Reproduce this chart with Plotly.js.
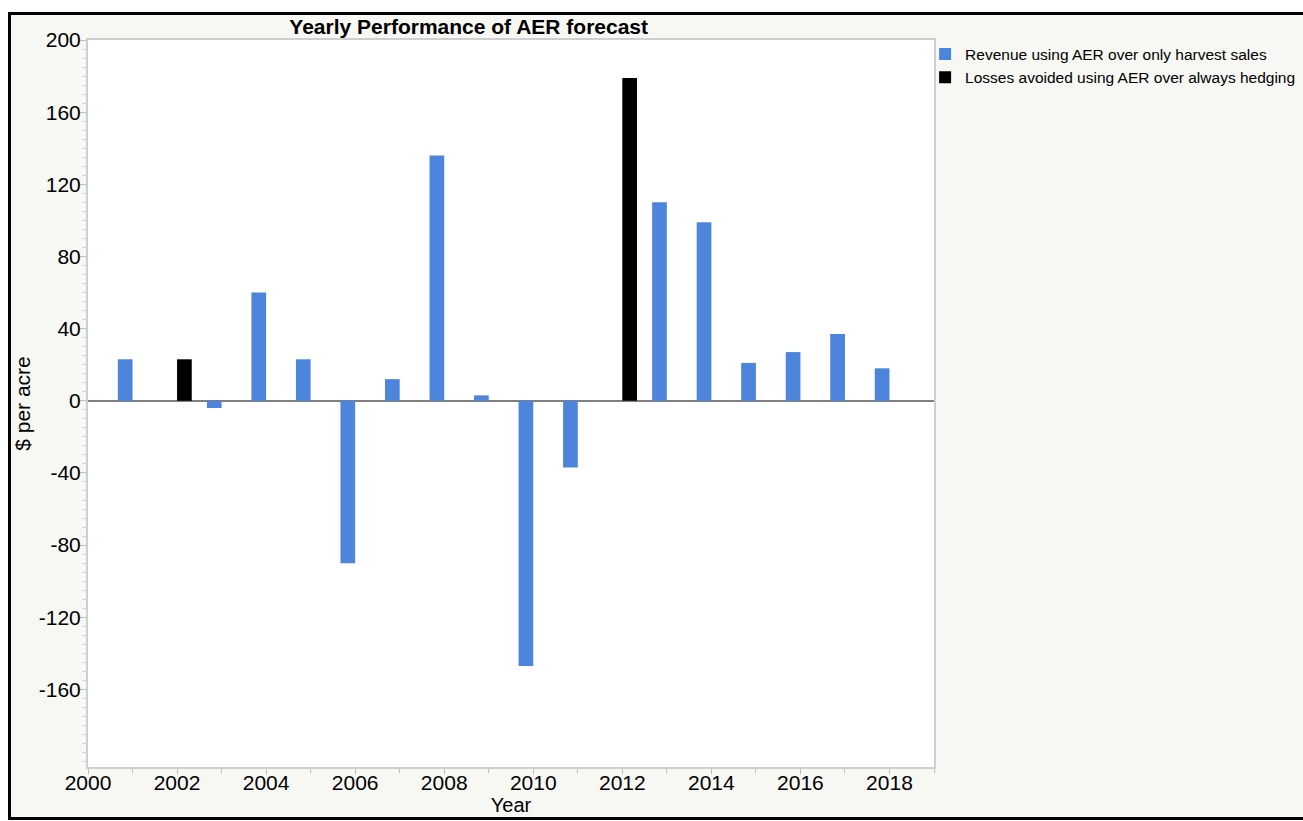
<!DOCTYPE html>
<html>
<head>
<meta charset="utf-8">
<script src="https://cdn.plot.ly/plotly-3.0.1.min.js"></script>
<style>
  html, body { margin: 0; padding: 0; background: #ffffff; width: 1303px; height: 821px; overflow: hidden; }
  #frame { position: absolute; left: 8px; top: 12px; width: 1295px; height: 802px;
           border-left: 3px solid #000; border-top: 3px solid #000; border-bottom: 3px solid #000;
           background: #f7f7f3; overflow: hidden; }
  #chart { width: 1292px; height: 802px; }
</style>
</head>
<body>
<div id="frame"><div id="chart"></div></div>
<script>
// Data
const revenueYears  = [2001, 2003, 2004, 2005, 2006, 2007, 2008, 2009, 2010, 2011, 2013, 2014, 2015, 2016, 2017, 2018];
const revenueValues = [23, -4, 60, 23, -90, 12, 136, 3, -147, -37, 110, 99, 21, 27, 37, 18];
const lossesYears   = [2002, 2012];
const lossesValues  = [23, 179];
const yTickValues   = [-160, -120, -80, -40, 0, 40, 80, 120, 160, 200];
const yTickLabels   = ['-160', '-120', '-80', '-40', '0', '40', '80', '120', '160', '200'];
const seriesNames   = ["Revenue using AER over only harvest sales", "Losses avoided using AER over always hedging"];

const fontFamily = '"Liberation Sans", Arial, Helvetica, sans-serif';

const traces = [
  { type: 'bar', name: seriesNames[0], x: revenueYears, y: revenueValues,
    width: 0.33, offset: -0.33,
    marker: { color: '#4d84dc', line: { width: 0 } } },
  { type: 'bar', name: seriesNames[1], x: lossesYears, y: lossesValues,
    width: 0.33, offset: 0,
    marker: { color: '#000000', line: { width: 0 } } }
];

const layout = {
  width: 1292, height: 802,
  margin: { l: 77, r: 369, t: 25, b: 50, pad: 0, autoexpand: false },
  paper_bgcolor: '#f7f7f3',
  plot_bgcolor: '#ffffff',
  barmode: 'overlay',
  font: { family: fontFamily, color: '#000000', size: 21 },
  title: {
    text: '<b>Yearly Performance of AER forecast</b>',
    font: { family: fontFamily, size: 21, color: '#000000' },
    x: 0.45, xref: 'paper', xanchor: 'center',
    y: 0.9855, yref: 'container', yanchor: 'middle'
  },
  xaxis: {
    range: [2000, 2019],
    tick0: 2000, dtick: 2,
    ticks: 'outside', ticklen: 5, tickwidth: 1, tickcolor: '#bdbdbd',
    minor: { dtick: 1, ticks: 'outside', ticklen: 4, tickcolor: '#bdbdbd', showgrid: false },
    showgrid: false, zeroline: false,
    showline: true, linecolor: '#cfcfcf', linewidth: 2, mirror: true,
    tickfont: { family: fontFamily, size: 21, color: '#000000' },
    ticklabelstandoff: -9,
    title: { text: 'Year', font: { family: fontFamily, size: 20, color: '#000000' }, standoff: 4 },
    automargin: false
  },
  yaxis: {
    range: [-203, 200],
    tickmode: 'array', tickvals: yTickValues, ticktext: yTickLabels,
    ticks: 'outside', ticklen: 6, tickwidth: 1, tickcolor: '#bdbdbd',
    minor: { dtick: 5, tick0: 0, ticks: 'outside', ticklen: 3, tickcolor: '#cccccc', showgrid: false },
    showgrid: false,
    zeroline: true, zerolinecolor: '#808080', zerolinewidth: 2,
    showline: true, linecolor: '#cfcfcf', linewidth: 2, mirror: true,
    tickfont: { family: fontFamily, size: 21, color: '#000000' },
    ticklabelstandoff: -5,
    title: { text: '$ per acre', font: { family: fontFamily, size: 21, color: '#000000' }, standoff: 6 },
    automargin: false
  },
  showlegend: true,
  legend: {
    xref: 'container', yref: 'container',
    x: 0.7075, xanchor: 'left', y: 0.972, yanchor: 'top',
    bgcolor: 'rgba(0,0,0,0)',
    font: { family: fontFamily, size: 15.5, color: '#000000' },
    tracegroupgap: 0, itemwidth: 30,
    traceorder: 'normal'
  }
};

Plotly.newPlot('chart', traces, layout, { displayModeBar: false, staticPlot: true });
</script>
</body>
</html>
